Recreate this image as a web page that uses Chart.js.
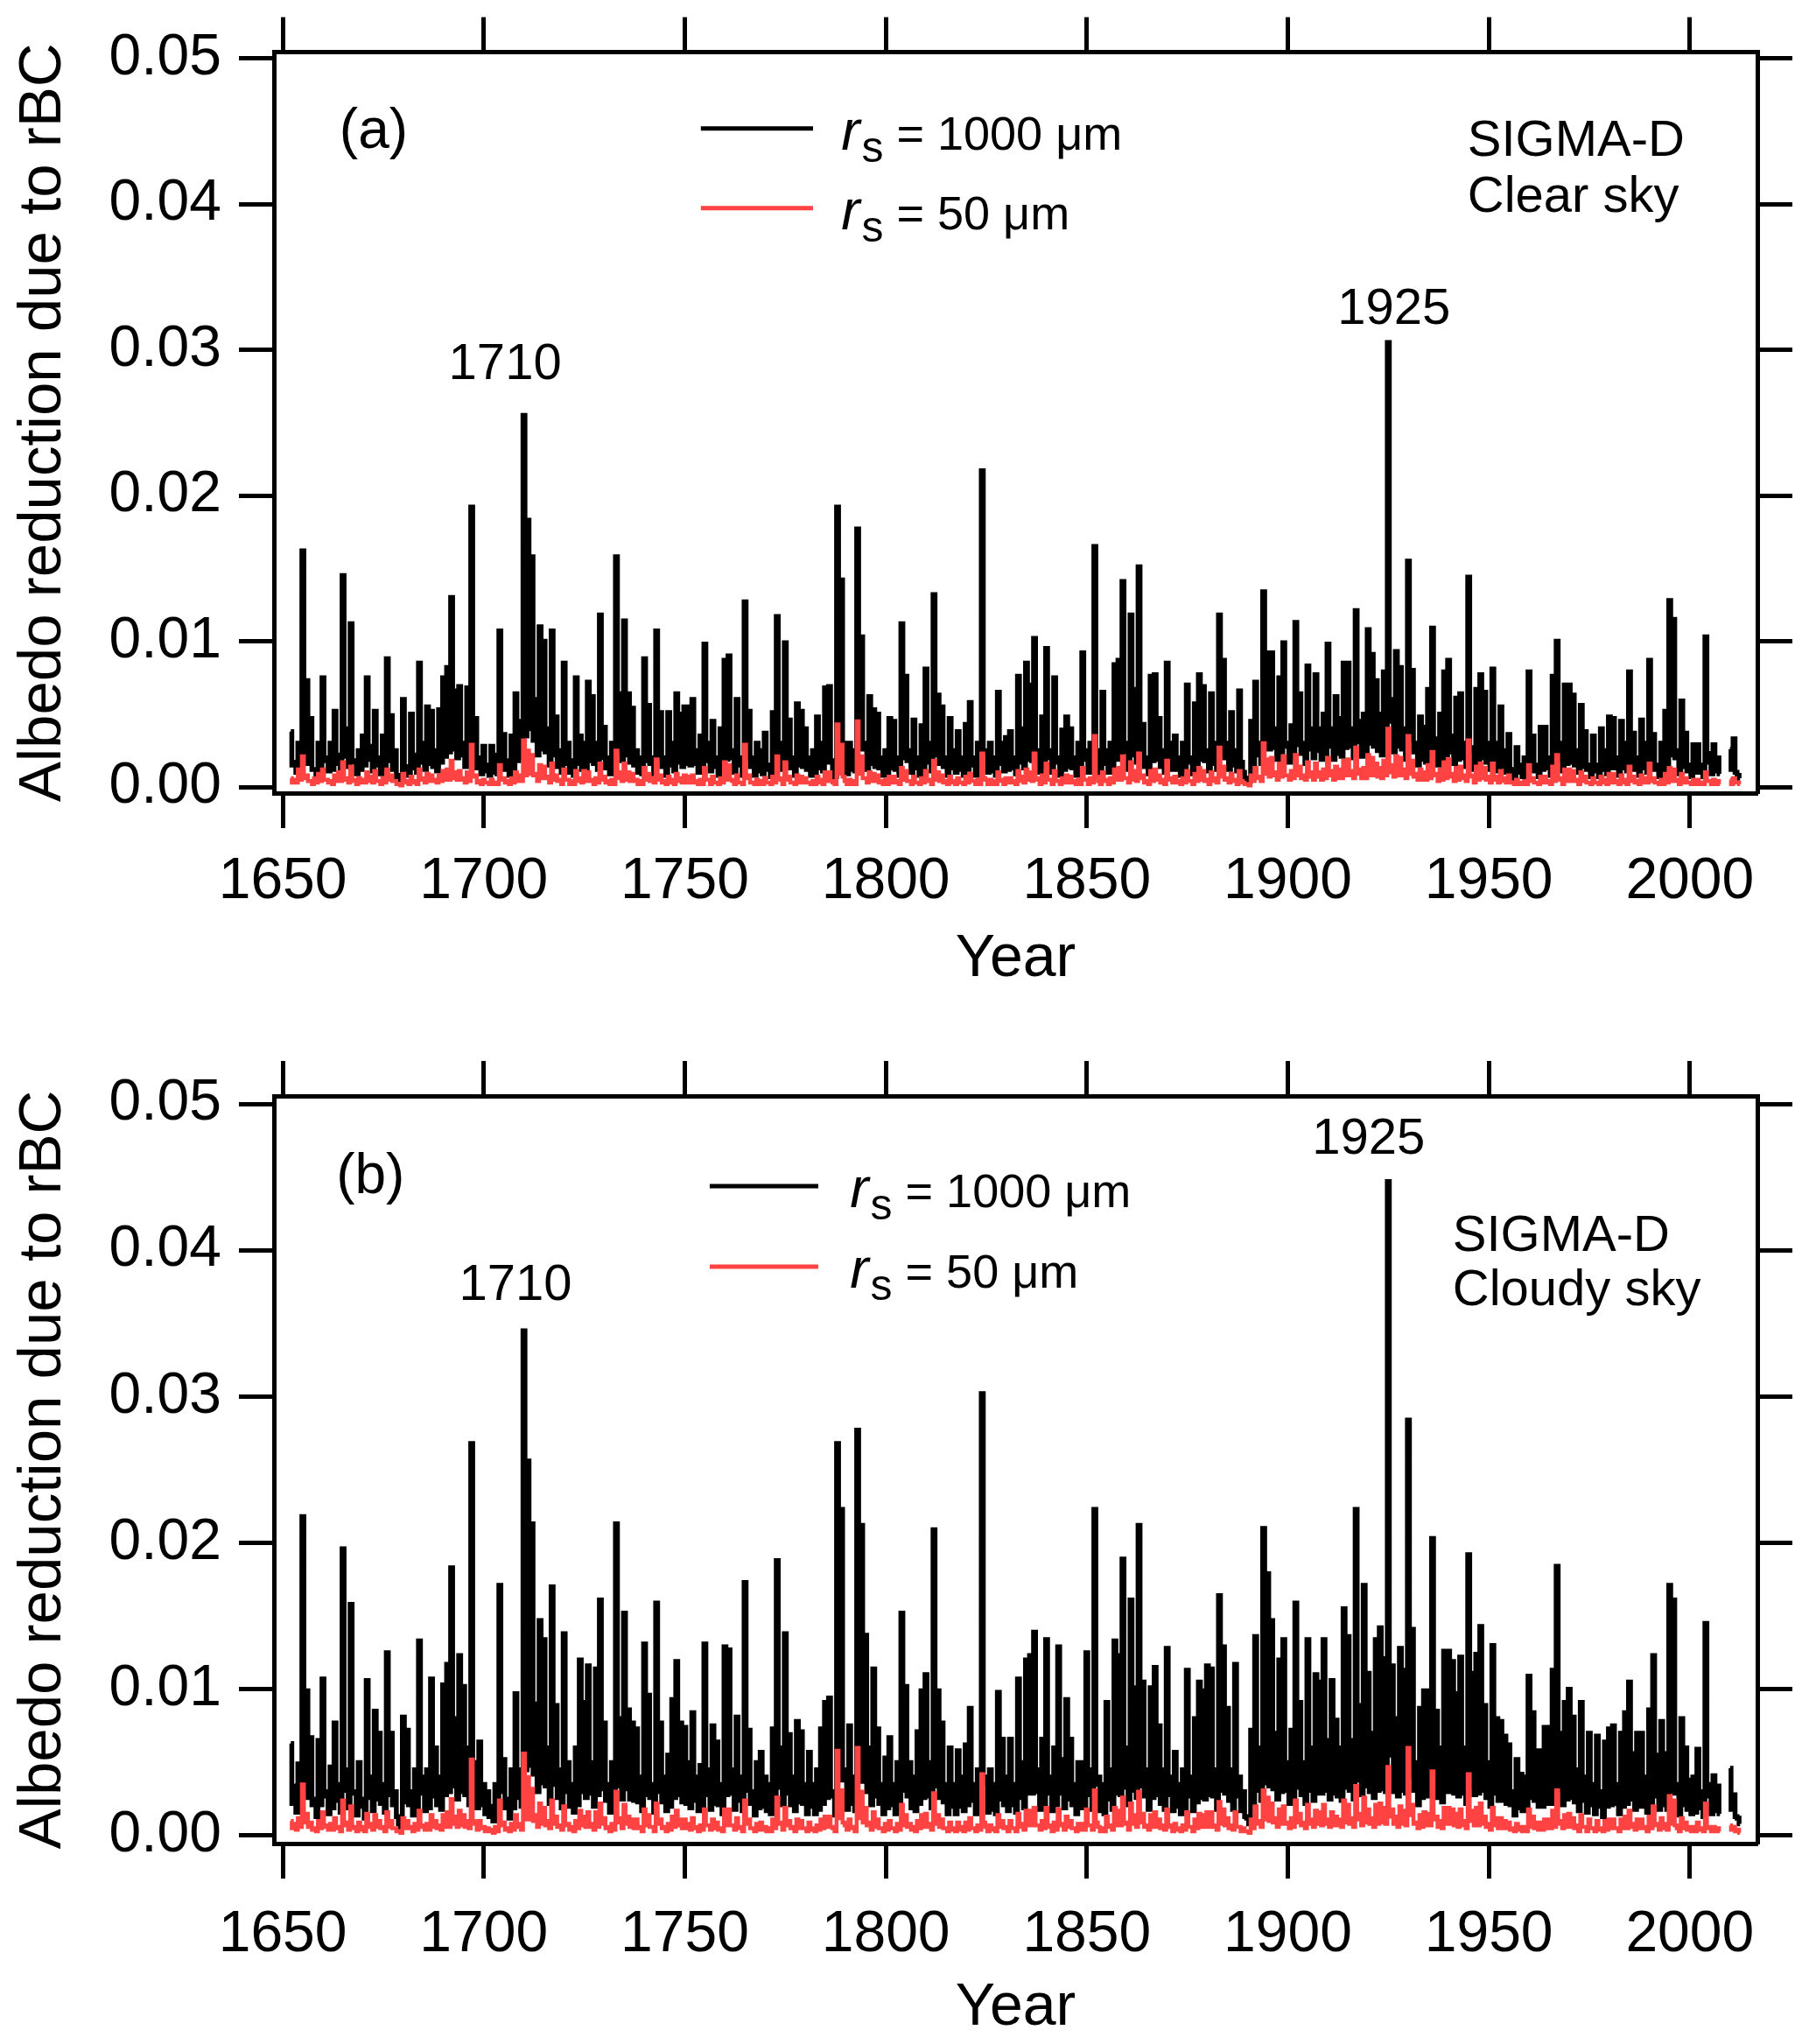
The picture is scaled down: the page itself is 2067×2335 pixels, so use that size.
<!DOCTYPE html>
<html>
<head>
<meta charset="utf-8">
<script src="https://cdn.jsdelivr.net/npm/chart.js@4.4.1/dist/chart.umd.min.js"></script>
<style>
  body { margin: 0; background: #fff; }
  .panel { position: absolute; left: 0; }
</style>
</head>
<body>
<div class="panel" style="top:0"><canvas id="clear-chart" width="2067" height="1167"></canvas></div>
<div class="panel" style="top:1167px"><canvas id="cloudy-chart" width="2067" height="1168"></canvas></div>
<script>
////// data: for each year 1652-2012 the high value and the
////// sub-annual low that follows it (null = no data)
const firstYear = 1652;
const lastYear = 2012;
const yearTicks = [1650, 1700, 1750, 1800, 1850, 1900, 1950, 2000];
const valueTicks = [0, 0.01, 0.02, 0.03, 0.04, 0.05];

// (a) clear sky, rs = 1000 um
const clearBlack = [
  0.0038,0.0017,0.0030,0.0162,0.0073,0.0047,0.0012,0.0030,0.0075,0.0020, // 1652
  0.0030,0.0052,0.0022,0.0145,0.0040,0.0112,0.0018,0.0025,0.0035,0.0075, // 1662
  0.0028,0.0052,0.0020,0.0035,0.0088,0.0049,0.0025,0.0008,0.0060,0.0012, // 1672
  0.0050,0.0022,0.0085,0.0030,0.0055,0.0052,0.0025,0.0053,0.0075,0.0082, // 1682
  0.0130,0.0066,0.0069,0.0030,0.0068,0.0192,0.0047,0.0020,0.0028,0.0015, // 1692
  0.0028,0.0022,0.0107,0.0036,0.0018,0.0035,0.0064,0.0045,0.0255,0.0183, // 1702
  0.0158,0.0060,0.0110,0.0100,0.0040,0.0107,0.0048,0.0025,0.0085,0.0030, // 1712
  0.0018,0.0075,0.0035,0.0030,0.0072,0.0062,0.0030,0.0118,0.0041,0.0020, // 1722
  0.0030,0.0158,0.0064,0.0114,0.0064,0.0054,0.0025,0.0020,0.0088,0.0056, // 1732
  0.0020,0.0107,0.0051,0.0020,0.0051,0.0030,0.0064,0.0050,0.0055,0.0055, // 1742
  0.0060,0.0025,0.0035,0.0098,0.0030,0.0045,0.0020,0.0040,0.0087,0.0090, // 1752
  0.0025,0.0060,0.0020,0.0127,0.0052,0.0020,0.0030,0.0025,0.0037,0.0015, // 1762
  0.0051,0.0117,0.0030,0.0099,0.0046,0.0020,0.0057,0.0052,0.0040,0.0020, // 1772
  0.0025,0.0048,0.0030,0.0068,0.0069,0.0012,0.0192,0.0142,0.0020,0.0030, // 1782
  0.0025,0.0177,0.0103,0.0030,0.0062,0.0053,0.0050,0.0020,0.0025,0.0047, // 1792
  0.0045,0.0020,0.0112,0.0076,0.0025,0.0046,0.0020,0.0042,0.0081,0.0030, // 1802
  0.0132,0.0063,0.0055,0.0020,0.0047,0.0025,0.0038,0.0020,0.0043,0.0058, // 1812
  0.0020,0.0030,0.0217,0.0025,0.0030,0.0020,0.0065,0.0030,0.0034,0.0038, // 1822
  0.0020,0.0076,0.0040,0.0085,0.0070,0.0102,0.0025,0.0048,0.0095,0.0025, // 1832
  0.0075,0.0020,0.0039,0.0048,0.0040,0.0020,0.0030,0.0092,0.0025,0.0030, // 1842
  0.0165,0.0020,0.0065,0.0025,0.0030,0.0084,0.0087,0.0141,0.0030,0.0118, // 1852
  0.0067,0.0151,0.0043,0.0020,0.0076,0.0077,0.0047,0.0025,0.0085,0.0030, // 1862
  0.0035,0.0020,0.0030,0.0070,0.0020,0.0057,0.0077,0.0069,0.0025,0.0064, // 1872
  0.0030,0.0118,0.0087,0.0030,0.0051,0.0025,0.0066,0.0010,0.0005,0.0045, // 1882
  0.0072,0.0030,0.0134,0.0092,0.0092,0.0040,0.0075,0.0099,0.0030,0.0042, // 1892
  0.0113,0.0064,0.0030,0.0083,0.0040,0.0077,0.0040,0.0050,0.0098,0.0040, // 1902
  0.0062,0.0047,0.0085,0.0085,0.0040,0.0121,0.0045,0.0050,0.0108,0.0091, // 1912
  0.0073,0.0050,0.0079,0.0305,0.0060,0.0093,0.0082,0.0040,0.0155,0.0080, // 1922
  0.0030,0.0048,0.0041,0.0067,0.0109,0.0033,0.0050,0.0079,0.0087,0.0035, // 1932
  0.0061,0.0064,0.0030,0.0144,0.0025,0.0067,0.0077,0.0065,0.0030,0.0081, // 1942
  0.0030,0.0055,0.0025,0.0036,0.0010,0.0027,0.0015,0.0020,0.0079,0.0035, // 1952
  0.0015,0.0041,0.0041,0.0020,0.0076,0.0100,0.0030,0.0070,0.0070,0.0063, // 1962
  0.0025,0.0056,0.0038,0.0015,0.0035,0.0015,0.0040,0.0025,0.0048,0.0047, // 1972
  0.0020,0.0045,0.0030,0.0079,0.0037,0.0020,0.0046,0.0030,0.0087,0.0036, // 1982
  0.0015,0.0030,0.0052,0.0128,0.0115,0.0025,0.0059,0.0037,0.0015,0.0029, // 1992
  0.0029,0.0015,0.0103,0.0023,0.0029,0.0020,null,null,0.0026,0.0033,     // 2002
  0.0008                                                                 // 2012
];
const clearBlackLow = [
  0.0015,0.0010,0.0014,0.0020,0.0016,0.0012,0.0008,0.0013,0.0018,0.0011,
  0.0012,0.0016,0.0010,0.0021,0.0014,0.0017,0.0009,0.0012,0.0015,0.0019,
  0.0011,0.0015,0.0009,0.0013,0.0018,0.0012,0.0007,0.0005,0.0014,0.0008,
  0.0013,0.0010,0.0017,0.0012,0.0016,0.0014,0.0011,0.0017,0.0021,0.0024,
  0.0026,0.0020,0.0022,0.0014,0.0019,0.0024,0.0013,0.0009,0.0011,0.0008,
  0.0010,0.0009,0.0016,0.0012,0.0008,0.0013,0.0018,0.0020,0.0035,0.0040,
  0.0032,0.0022,0.0026,0.0024,0.0015,0.0022,0.0014,0.0010,0.0016,0.0010,
  0.0008,0.0016,0.0012,0.0011,0.0018,0.0016,0.0012,0.0020,0.0013,0.0009,
  0.0012,0.0024,0.0018,0.0022,0.0017,0.0015,0.0010,0.0009,0.0018,0.0016,
  0.0009,0.0019,0.0014,0.0008,0.0015,0.0011,0.0017,0.0014,0.0016,0.0015,
  0.0016,0.0010,0.0012,0.0018,0.0011,0.0014,0.0008,0.0013,0.0019,0.0020,
  0.0010,0.0015,0.0008,0.0020,0.0014,0.0008,0.0011,0.0009,0.0012,0.0007,
  0.0014,0.0021,0.0012,0.0019,0.0013,0.0008,0.0015,0.0014,0.0012,0.0008,
  0.0010,0.0013,0.0011,0.0017,0.0018,0.0007,0.0035,0.0030,0.0009,0.0012,
  0.0011,0.0036,0.0026,0.0012,0.0016,0.0014,0.0013,0.0008,0.0010,0.0013,
  0.0012,0.0008,0.0020,0.0018,0.0010,0.0013,0.0008,0.0012,0.0017,0.0011,
  0.0022,0.0016,0.0014,0.0008,0.0013,0.0010,0.0012,0.0008,0.0012,0.0015,
  0.0008,0.0011,0.0024,0.0010,0.0011,0.0008,0.0016,0.0011,0.0012,0.0013,
  0.0009,0.0017,0.0013,0.0019,0.0018,0.0021,0.0010,0.0014,0.0020,0.0010,
  0.0017,0.0008,0.0012,0.0014,0.0013,0.0008,0.0011,0.0019,0.0010,0.0012,
  0.0025,0.0009,0.0016,0.0010,0.0012,0.0019,0.0020,0.0024,0.0012,0.0022,
  0.0017,0.0025,0.0014,0.0009,0.0018,0.0019,0.0014,0.0010,0.0019,0.0012,
  0.0012,0.0008,0.0011,0.0017,0.0009,0.0015,0.0019,0.0018,0.0011,0.0016,
  0.0012,0.0023,0.0020,0.0012,0.0015,0.0011,0.0017,0.0006,0.0004,0.0016,
  0.0022,0.0016,0.0030,0.0026,0.0027,0.0019,0.0024,0.0028,0.0017,0.0020,
  0.0029,0.0023,0.0016,0.0026,0.0020,0.0025,0.0019,0.0022,0.0028,0.0019,
  0.0023,0.0021,0.0027,0.0028,0.0020,0.0031,0.0021,0.0023,0.0030,0.0028,
  0.0025,0.0022,0.0027,0.0045,0.0024,0.0028,0.0026,0.0019,0.0032,0.0024,
  0.0015,0.0019,0.0017,0.0021,0.0026,0.0015,0.0019,0.0022,0.0024,0.0016,
  0.0019,0.0020,0.0014,0.0027,0.0012,0.0018,0.0020,0.0017,0.0012,0.0018,
  0.0011,0.0014,0.0010,0.0012,0.0006,0.0010,0.0007,0.0008,0.0016,0.0011,
  0.0007,0.0012,0.0013,0.0008,0.0016,0.0019,0.0011,0.0016,0.0017,0.0015,
  0.0010,0.0014,0.0012,0.0007,0.0011,0.0007,0.0012,0.0009,0.0013,0.0013,
  0.0008,0.0013,0.0011,0.0016,0.0012,0.0008,0.0013,0.0010,0.0017,0.0012,
  0.0007,0.0011,0.0014,0.0022,0.0020,0.0009,0.0014,0.0011,0.0007,0.0010,
  0.0010,0.0007,0.0017,0.0009,0.0011,0.0009,null,null,0.0012,0.0010,
  0.0006
];

// (a) clear sky, rs = 50 um
const clearRed = [
  0.0006,0.0005,0.0012,0.0021,0.0008,0.0004,0.0006,0.0009,0.0012,0.0005,
  0.0004,0.0008,0.0010,0.0017,0.0006,0.0014,0.0004,0.0006,0.0005,0.0010,
  0.0007,0.0011,0.0004,0.0006,0.0012,0.0008,0.0004,0.0002,0.0009,0.0003,
  0.0007,0.0004,0.0012,0.0006,0.0009,0.0008,0.0005,0.0008,0.0011,0.0012,
  0.0018,0.0010,0.0011,0.0006,0.0010,0.0029,0.0008,0.0004,0.0005,0.0003,
  0.0005,0.0003,0.0015,0.0006,0.0004,0.0006,0.0010,0.0008,0.0032,0.0025,
  0.0022,0.0009,0.0015,0.0014,0.0007,0.0016,0.0008,0.0005,0.0012,0.0005,
  0.0004,0.0011,0.0006,0.0011,0.0010,0.0005,0.0006,0.0016,0.0007,0.0004,
  0.0005,0.0025,0.0010,0.0016,0.0010,0.0009,0.0005,0.0004,0.0013,0.0009,
  0.0006,0.0019,0.0008,0.0004,0.0007,0.0005,0.0009,0.0006,0.0008,0.0007,
  0.0008,0.0004,0.0005,0.0013,0.0005,0.0007,0.0003,0.0006,0.0017,0.0015,
  0.0004,0.0008,0.0003,0.0029,0.0008,0.0003,0.0005,0.0004,0.0006,0.0003,
  0.0007,0.0021,0.0005,0.0017,0.0007,0.0003,0.0008,0.0007,0.0006,0.0003,
  0.0004,0.0007,0.0005,0.0010,0.0010,0.0003,0.0043,0.0029,0.0004,0.0005,
  0.0004,0.0045,0.0021,0.0006,0.0010,0.0009,0.0008,0.0004,0.0005,0.0007,
  0.0007,0.0004,0.0013,0.0011,0.0004,0.0007,0.0003,0.0006,0.0011,0.0005,
  0.0018,0.0010,0.0008,0.0004,0.0007,0.0004,0.0006,0.0003,0.0007,0.0009,
  0.0004,0.0005,0.0023,0.0005,0.0005,0.0004,0.0010,0.0005,0.0006,0.0006,
  0.0004,0.0011,0.0007,0.0012,0.0010,0.0023,0.0005,0.0008,0.0016,0.0005,
  0.0011,0.0004,0.0006,0.0008,0.0007,0.0004,0.0005,0.0013,0.0005,0.0006,
  0.0035,0.0004,0.0010,0.0005,0.0006,0.0012,0.0013,0.0021,0.0006,0.0017,
  0.0011,0.0023,0.0008,0.0004,0.0011,0.0012,0.0008,0.0005,0.0018,0.0006,
  0.0007,0.0004,0.0006,0.0011,0.0004,0.0009,0.0013,0.0011,0.0005,0.0010,
  0.0006,0.0027,0.0014,0.0006,0.0009,0.0005,0.0011,0.0003,0.0002,0.0008,
  0.0013,0.0007,0.0030,0.0019,0.0020,0.0010,0.0016,0.0021,0.0008,0.0011,
  0.0022,0.0014,0.0008,0.0017,0.0010,0.0016,0.0010,0.0012,0.0020,0.0011,
  0.0014,0.0012,0.0018,0.0019,0.0011,0.0027,0.0012,0.0013,0.0022,0.0020,
  0.0016,0.0013,0.0018,0.0040,0.0015,0.0021,0.0020,0.0012,0.0035,0.0018,
  0.0009,0.0012,0.0010,0.0015,0.0024,0.0009,0.0012,0.0017,0.0019,0.0009,
  0.0013,0.0014,0.0008,0.0032,0.0007,0.0014,0.0016,0.0013,0.0007,0.0016,
  0.0007,0.0011,0.0006,0.0008,0.0003,0.0005,0.0003,0.0004,0.0015,0.0006,
  0.0003,0.0007,0.0007,0.0004,0.0014,0.0022,0.0005,0.0012,0.0012,0.0011,
  0.0005,0.0010,0.0007,0.0003,0.0006,0.0003,0.0007,0.0005,0.0009,0.0009,
  0.0004,0.0008,0.0005,0.0014,0.0007,0.0004,0.0008,0.0006,0.0016,0.0006,
  0.0003,0.0005,0.0009,0.0013,0.0012,0.0005,0.0009,0.0006,0.0003,0.0005,
  0.0005,0.0003,0.0010,0.0004,0.0005,0.0004,null,null,0.0005,0.0006,
  0.0003
];
const clearRedLow = [
  0.0003,0.0003,0.0005,0.0006,0.0004,0.0002,0.0003,0.0004,0.0005,0.0003,
  0.0002,0.0004,0.0004,0.0005,0.0003,0.0005,0.0002,0.0003,0.0003,0.0004,
  0.0003,0.0004,0.0002,0.0003,0.0005,0.0004,0.0002,0.0001,0.0004,0.0002,
  0.0003,0.0002,0.0005,0.0003,0.0004,0.0004,0.0003,0.0004,0.0005,0.0005,
  0.0006,0.0005,0.0005,0.0003,0.0004,0.0007,0.0003,0.0002,0.0003,0.0002,
  0.0002,0.0002,0.0005,0.0003,0.0002,0.0003,0.0004,0.0004,0.0008,0.0009,
  0.0008,0.0004,0.0006,0.0006,0.0003,0.0005,0.0004,0.0002,0.0005,0.0002,
  0.0002,0.0004,0.0003,0.0004,0.0004,0.0002,0.0003,0.0005,0.0003,0.0002,
  0.0002,0.0006,0.0004,0.0005,0.0004,0.0004,0.0002,0.0002,0.0005,0.0004,
  0.0003,0.0005,0.0003,0.0002,0.0003,0.0002,0.0004,0.0003,0.0003,0.0003,
  0.0003,0.0002,0.0002,0.0005,0.0002,0.0003,0.0002,0.0003,0.0005,0.0005,
  0.0002,0.0003,0.0002,0.0006,0.0003,0.0002,0.0002,0.0002,0.0003,0.0002,
  0.0003,0.0006,0.0002,0.0005,0.0003,0.0002,0.0003,0.0003,0.0003,0.0002,
  0.0002,0.0003,0.0002,0.0004,0.0004,0.0002,0.0009,0.0007,0.0002,0.0002,
  0.0002,0.0009,0.0006,0.0003,0.0004,0.0004,0.0003,0.0002,0.0002,0.0003,
  0.0003,0.0002,0.0005,0.0004,0.0002,0.0003,0.0002,0.0003,0.0004,0.0002,
  0.0005,0.0004,0.0003,0.0002,0.0003,0.0002,0.0003,0.0002,0.0003,0.0004,
  0.0002,0.0002,0.0006,0.0002,0.0002,0.0002,0.0004,0.0002,0.0003,0.0003,
  0.0002,0.0004,0.0003,0.0005,0.0004,0.0006,0.0002,0.0003,0.0005,0.0002,
  0.0004,0.0002,0.0003,0.0003,0.0003,0.0002,0.0002,0.0005,0.0002,0.0003,
  0.0007,0.0002,0.0004,0.0002,0.0003,0.0005,0.0005,0.0006,0.0003,0.0005,
  0.0004,0.0006,0.0003,0.0002,0.0004,0.0005,0.0003,0.0002,0.0005,0.0003,
  0.0003,0.0002,0.0003,0.0004,0.0002,0.0004,0.0005,0.0004,0.0002,0.0004,
  0.0003,0.0007,0.0005,0.0003,0.0004,0.0002,0.0004,0.0002,0.0001,0.0004,
  0.0006,0.0004,0.0009,0.0007,0.0008,0.0005,0.0007,0.0008,0.0005,0.0006,
  0.0008,0.0006,0.0005,0.0007,0.0005,0.0007,0.0005,0.0006,0.0008,0.0005,
  0.0006,0.0006,0.0008,0.0008,0.0006,0.0009,0.0006,0.0006,0.0008,0.0008,
  0.0007,0.0006,0.0008,0.0010,0.0007,0.0008,0.0008,0.0006,0.0009,0.0007,
  0.0005,0.0005,0.0005,0.0006,0.0008,0.0004,0.0005,0.0006,0.0007,0.0004,
  0.0005,0.0006,0.0004,0.0008,0.0003,0.0005,0.0006,0.0005,0.0003,0.0005,
  0.0003,0.0004,0.0003,0.0003,0.0002,0.0002,0.0002,0.0002,0.0004,0.0003,
  0.0002,0.0003,0.0003,0.0002,0.0004,0.0006,0.0002,0.0004,0.0004,0.0004,
  0.0002,0.0004,0.0003,0.0002,0.0003,0.0002,0.0003,0.0002,0.0003,0.0003,
  0.0002,0.0003,0.0002,0.0004,0.0003,0.0002,0.0003,0.0003,0.0004,0.0003,
  0.0002,0.0002,0.0003,0.0004,0.0004,0.0002,0.0003,0.0003,0.0002,0.0002,
  0.0002,0.0002,0.0004,0.0002,0.0002,0.0002,null,null,0.0002,0.0003,
  0.0002
];

// (b) cloudy sky, rs = 1000 um
const cloudyBlack = [
  0.0063,0.0034,0.0049,0.0218,0.0099,0.0067,0.0025,0.0065,0.0107,0.0030, // 1652
  0.0047,0.0077,0.0035,0.0196,0.0045,0.0158,0.0030,0.0050,0.0025,0.0106, // 1662
  0.0040,0.0085,0.0070,0.0035,0.0125,0.0070,0.0030,0.0008,0.0081,0.0072, // 1672
  0.0030,0.0045,0.0133,0.0040,0.0045,0.0107,0.0060,0.0040,0.0103,0.0117, // 1682
  0.0183,0.0080,0.0123,0.0102,0.0060,0.0268,0.0050,0.0064,0.0035,0.0030, // 1692
  0.0020,0.0035,0.0171,0.0052,0.0025,0.0045,0.0097,0.0045,0.0345,0.0256, // 1702
  0.0213,0.0090,0.0147,0.0134,0.0060,0.0170,0.0089,0.0045,0.0138,0.0050, // 1712
  0.0035,0.0060,0.0120,0.0091,0.0116,0.0050,0.0114,0.0161,0.0077,0.0035, // 1722
  0.0050,0.0213,0.0080,0.0152,0.0086,0.0077,0.0073,0.0040,0.0131,0.0096, // 1732
  0.0035,0.0159,0.0077,0.0040,0.0055,0.0093,0.0119,0.0077,0.0074,0.0050, // 1742
  0.0084,0.0040,0.0048,0.0131,0.0045,0.0075,0.0064,0.0035,0.0129,0.0127, // 1752
  0.0045,0.0081,0.0040,0.0173,0.0072,0.0030,0.0050,0.0057,0.0040,0.0035, // 1762
  0.0073,0.0188,0.0060,0.0138,0.0069,0.0040,0.0078,0.0071,0.0035,0.0057, // 1772
  0.0035,0.0045,0.0073,0.0091,0.0094,0.0030,0.0268,0.0223,0.0045,0.0075, // 1782
  0.0040,0.0277,0.0212,0.0137,0.0060,0.0114,0.0073,0.0035,0.0053,0.0067, // 1792
  0.0035,0.0050,0.0152,0.0102,0.0050,0.0040,0.0071,0.0099,0.0110,0.0050, // 1802
  0.0209,0.0099,0.0077,0.0035,0.0060,0.0035,0.0058,0.0040,0.0062,0.0087, // 1812
  0.0035,0.0045,0.0302,0.0040,0.0045,0.0035,0.0098,0.0066,0.0040,0.0066, // 1822
  0.0035,0.0107,0.0050,0.0120,0.0123,0.0139,0.0045,0.0066,0.0134,0.0040, // 1832
  0.0060,0.0129,0.0052,0.0093,0.0066,0.0035,0.0050,0.0050,0.0125,0.0045, // 1842
  0.0223,0.0040,0.0035,0.0091,0.0045,0.0133,0.0123,0.0189,0.0060,0.0161, // 1852
  0.0101,0.0212,0.0105,0.0045,0.0101,0.0115,0.0075,0.0045,0.0128,0.0040, // 1862
  0.0057,0.0035,0.0045,0.0113,0.0040,0.0080,0.0105,0.0099,0.0116,0.0114, // 1872
  0.0045,0.0164,0.0129,0.0087,0.0045,0.0117,0.0040,0.0030,0.0012,0.0072, // 1882
  0.0136,0.0060,0.0210,0.0179,0.0147,0.0070,0.0120,0.0134,0.0050,0.0072, // 1892
  0.0159,0.0091,0.0050,0.0134,0.0060,0.0110,0.0105,0.0134,0.0065,0.0106, // 1902
  0.0079,0.0060,0.0155,0.0136,0.0065,0.0223,0.0089,0.0171,0.0111,0.0070, // 1912
  0.0134,0.0142,0.0121,0.0447,0.0116,0.0080,0.0128,0.0113,0.0284,0.0141, // 1922
  0.0050,0.0087,0.0099,0.0099,0.0203,0.0085,0.0060,0.0126,0.0126,0.0119, // 1932
  0.0097,0.0122,0.0060,0.0192,0.0111,0.0124,0.0143,0.0089,0.0050,0.0130, // 1942
  0.0080,0.0078,0.0068,0.0062,0.0030,0.0052,0.0042,0.0040,0.0109,0.0084, // 1952
  0.0058,0.0058,0.0074,0.0074,0.0113,0.0184,0.0070,0.0091,0.0100,0.0081, // 1962
  0.0045,0.0091,0.0040,0.0070,0.0035,0.0068,0.0030,0.0064,0.0073,0.0075, // 1972
  0.0035,0.0070,0.0084,0.0105,0.0056,0.0070,0.0070,0.0040,0.0086,0.0123, // 1982
  0.0055,0.0078,0.0056,0.0171,0.0161,0.0035,0.0080,0.0060,0.0038,0.0040, // 1992
  0.0059,0.0030,0.0145,0.0035,0.0041,0.0034,null,null,0.0046,0.0028,     // 2002
  0.0012                                                                 // 2012
];
const cloudyBlackLow = [
  0.0022,0.0016,0.0020,0.0032,0.0026,0.0021,0.0013,0.0021,0.0027,0.0015,
  0.0019,0.0024,0.0016,0.0031,0.0019,0.0029,0.0014,0.0020,0.0012,0.0026,
  0.0017,0.0025,0.0022,0.0016,0.0028,0.0021,0.0013,0.0006,0.0023,0.0021,
  0.0014,0.0019,0.0029,0.0017,0.0019,0.0027,0.0021,0.0018,0.0028,0.0030,
  0.0034,0.0025,0.0030,0.0028,0.0021,0.0036,0.0019,0.0021,0.0015,0.0013,
  0.0010,0.0016,0.0030,0.0019,0.0012,0.0019,0.0026,0.0020,0.0045,0.0048,
  0.0042,0.0030,0.0036,0.0034,0.0022,0.0035,0.0026,0.0019,0.0030,0.0020,
  0.0016,0.0021,0.0030,0.0026,0.0029,0.0020,0.0028,0.0032,0.0024,0.0016,
  0.0020,0.0034,0.0025,0.0032,0.0025,0.0024,0.0023,0.0017,0.0028,0.0026,
  0.0016,0.0030,0.0023,0.0017,0.0020,0.0026,0.0028,0.0023,0.0022,0.0019,
  0.0024,0.0017,0.0019,0.0028,0.0018,0.0022,0.0021,0.0015,0.0028,0.0029,
  0.0018,0.0024,0.0017,0.0031,0.0022,0.0014,0.0019,0.0020,0.0017,0.0015,
  0.0022,0.0033,0.0021,0.0029,0.0021,0.0017,0.0023,0.0022,0.0015,0.0020,
  0.0015,0.0018,0.0022,0.0026,0.0027,0.0014,0.0042,0.0038,0.0018,0.0022,
  0.0017,0.0044,0.0037,0.0030,0.0021,0.0027,0.0022,0.0015,0.0019,0.0021,
  0.0015,0.0019,0.0031,0.0027,0.0019,0.0017,0.0022,0.0026,0.0027,0.0019,
  0.0034,0.0026,0.0023,0.0015,0.0020,0.0015,0.0020,0.0017,0.0021,0.0024,
  0.0015,0.0018,0.0036,0.0016,0.0018,0.0015,0.0025,0.0021,0.0017,0.0021,
  0.0016,0.0026,0.0019,0.0029,0.0029,0.0030,0.0018,0.0021,0.0029,0.0017,
  0.0021,0.0029,0.0019,0.0025,0.0021,0.0015,0.0019,0.0019,0.0028,0.0018,
  0.0035,0.0017,0.0015,0.0025,0.0018,0.0029,0.0028,0.0033,0.0021,0.0031,
  0.0026,0.0034,0.0027,0.0018,0.0026,0.0028,0.0022,0.0018,0.0028,0.0017,
  0.0020,0.0015,0.0018,0.0027,0.0017,0.0023,0.0026,0.0025,0.0028,0.0027,
  0.0018,0.0031,0.0029,0.0024,0.0018,0.0027,0.0017,0.0013,0.0008,0.0022,
  0.0031,0.0024,0.0036,0.0034,0.0032,0.0025,0.0030,0.0031,0.0022,0.0026,
  0.0033,0.0028,0.0022,0.0031,0.0024,0.0029,0.0029,0.0031,0.0025,0.0029,
  0.0027,0.0024,0.0033,0.0031,0.0025,0.0038,0.0028,0.0034,0.0030,0.0026,
  0.0031,0.0032,0.0030,0.0055,0.0030,0.0027,0.0031,0.0029,0.0040,0.0031,
  0.0021,0.0026,0.0027,0.0027,0.0035,0.0026,0.0023,0.0030,0.0030,0.0029,
  0.0027,0.0029,0.0022,0.0033,0.0028,0.0029,0.0031,0.0026,0.0020,0.0029,
  0.0024,0.0024,0.0022,0.0021,0.0014,0.0019,0.0017,0.0017,0.0026,0.0024,
  0.0020,0.0020,0.0022,0.0022,0.0026,0.0031,0.0021,0.0025,0.0026,0.0023,
  0.0017,0.0024,0.0016,0.0021,0.0015,0.0020,0.0013,0.0020,0.0021,0.0022,
  0.0015,0.0020,0.0022,0.0025,0.0018,0.0020,0.0020,0.0016,0.0022,0.0027,
  0.0018,0.0021,0.0018,0.0030,0.0029,0.0014,0.0021,0.0018,0.0015,0.0016,
  0.0019,0.0013,0.0027,0.0015,0.0017,0.0015,null,null,0.0018,0.0013,
  0.0008
];

// (b) cloudy sky, rs = 50 um
const cloudyRed = [
  0.0010,0.0008,0.0012,0.0035,0.0015,0.0009,0.0005,0.0010,0.0016,0.0007,
  0.0008,0.0012,0.0006,0.0024,0.0009,0.0020,0.0005,0.0009,0.0006,0.0015,
  0.0008,0.0014,0.0010,0.0006,0.0016,0.0010,0.0005,0.0003,0.0012,0.0010,
  0.0006,0.0008,0.0017,0.0007,0.0008,0.0014,0.0010,0.0007,0.0014,0.0016,
  0.0025,0.0013,0.0017,0.0014,0.0010,0.0052,0.0008,0.0010,0.0006,0.0005,
  0.0004,0.0006,0.0024,0.0009,0.0005,0.0008,0.0014,0.0008,0.0056,0.0040,
  0.0032,0.0014,0.0022,0.0019,0.0010,0.0024,0.0013,0.0007,0.0020,0.0008,
  0.0006,0.0010,0.0017,0.0013,0.0016,0.0008,0.0016,0.0022,0.0012,0.0006,
  0.0008,0.0030,0.0012,0.0021,0.0013,0.0011,0.0011,0.0006,0.0018,0.0014,
  0.0006,0.0022,0.0011,0.0006,0.0008,0.0013,0.0017,0.0011,0.0011,0.0008,
  0.0012,0.0006,0.0007,0.0018,0.0007,0.0011,0.0009,0.0005,0.0018,0.0018,
  0.0007,0.0012,0.0006,0.0024,0.0011,0.0005,0.0008,0.0009,0.0006,0.0005,
  0.0011,0.0026,0.0009,0.0019,0.0010,0.0006,0.0011,0.0010,0.0005,0.0009,
  0.0005,0.0007,0.0011,0.0013,0.0013,0.0005,0.0058,0.0031,0.0007,0.0011,
  0.0006,0.0060,0.0030,0.0019,0.0009,0.0016,0.0011,0.0005,0.0008,0.0010,
  0.0005,0.0008,0.0021,0.0014,0.0008,0.0006,0.0010,0.0014,0.0015,0.0008,
  0.0029,0.0014,0.0011,0.0005,0.0009,0.0005,0.0009,0.0006,0.0009,0.0012,
  0.0005,0.0007,0.0042,0.0006,0.0007,0.0005,0.0014,0.0010,0.0006,0.0010,
  0.0005,0.0015,0.0008,0.0017,0.0017,0.0019,0.0007,0.0010,0.0019,0.0006,
  0.0009,0.0018,0.0008,0.0013,0.0010,0.0005,0.0008,0.0008,0.0018,0.0007,
  0.0031,0.0006,0.0005,0.0013,0.0007,0.0019,0.0017,0.0026,0.0009,0.0022,
  0.0014,0.0030,0.0015,0.0007,0.0014,0.0016,0.0011,0.0007,0.0018,0.0006,
  0.0008,0.0005,0.0007,0.0016,0.0006,0.0011,0.0015,0.0014,0.0016,0.0016,
  0.0007,0.0023,0.0018,0.0012,0.0007,0.0016,0.0006,0.0005,0.0003,0.0011,
  0.0020,0.0010,0.0031,0.0026,0.0022,0.0012,0.0018,0.0020,0.0009,0.0012,
  0.0024,0.0015,0.0009,0.0021,0.0011,0.0017,0.0016,0.0021,0.0011,0.0016,
  0.0013,0.0011,0.0024,0.0021,0.0012,0.0034,0.0015,0.0026,0.0018,0.0012,
  0.0021,0.0022,0.0019,0.0047,0.0018,0.0013,0.0020,0.0017,0.0060,0.0021,
  0.0009,0.0014,0.0016,0.0015,0.0044,0.0013,0.0010,0.0019,0.0019,0.0018,
  0.0015,0.0018,0.0010,0.0042,0.0017,0.0019,0.0022,0.0013,0.0008,0.0019,
  0.0012,0.0012,0.0010,0.0009,0.0005,0.0008,0.0006,0.0006,0.0018,0.0013,
  0.0009,0.0009,0.0011,0.0011,0.0017,0.0031,0.0010,0.0014,0.0015,0.0012,
  0.0007,0.0014,0.0006,0.0011,0.0005,0.0010,0.0005,0.0010,0.0011,0.0011,
  0.0005,0.0011,0.0013,0.0017,0.0008,0.0011,0.0011,0.0006,0.0013,0.0020,
  0.0008,0.0012,0.0008,0.0027,0.0024,0.0005,0.0012,0.0009,0.0006,0.0006,
  0.0009,0.0005,0.0022,0.0005,0.0006,0.0005,null,null,0.0007,0.0006,
  0.0004
];
const cloudyRedLow = [
  0.0005,0.0004,0.0006,0.0009,0.0006,0.0004,0.0003,0.0005,0.0006,0.0004,
  0.0004,0.0005,0.0003,0.0007,0.0004,0.0006,0.0003,0.0004,0.0003,0.0006,
  0.0004,0.0006,0.0005,0.0003,0.0006,0.0005,0.0003,0.0002,0.0005,0.0005,
  0.0003,0.0004,0.0006,0.0004,0.0004,0.0006,0.0005,0.0004,0.0006,0.0006,
  0.0008,0.0006,0.0007,0.0006,0.0005,0.0010,0.0004,0.0005,0.0003,0.0003,
  0.0002,0.0003,0.0007,0.0004,0.0003,0.0004,0.0006,0.0004,0.0011,0.0011,
  0.0010,0.0006,0.0008,0.0007,0.0005,0.0008,0.0006,0.0004,0.0007,0.0004,
  0.0003,0.0005,0.0007,0.0006,0.0006,0.0004,0.0006,0.0008,0.0005,0.0003,
  0.0004,0.0009,0.0005,0.0008,0.0006,0.0005,0.0005,0.0003,0.0007,0.0006,
  0.0003,0.0008,0.0005,0.0003,0.0004,0.0006,0.0007,0.0005,0.0005,0.0004,
  0.0005,0.0003,0.0004,0.0007,0.0004,0.0005,0.0004,0.0003,0.0007,0.0007,
  0.0004,0.0005,0.0003,0.0008,0.0005,0.0003,0.0004,0.0004,0.0003,0.0003,
  0.0005,0.0008,0.0004,0.0007,0.0005,0.0003,0.0005,0.0005,0.0003,0.0004,
  0.0003,0.0004,0.0005,0.0006,0.0006,0.0003,0.0012,0.0009,0.0004,0.0005,
  0.0003,0.0012,0.0009,0.0007,0.0004,0.0006,0.0005,0.0003,0.0004,0.0005,
  0.0003,0.0004,0.0007,0.0006,0.0004,0.0003,0.0005,0.0006,0.0006,0.0004,
  0.0008,0.0006,0.0005,0.0003,0.0004,0.0003,0.0004,0.0003,0.0004,0.0005,
  0.0003,0.0004,0.0009,0.0003,0.0004,0.0003,0.0006,0.0005,0.0003,0.0005,
  0.0003,0.0006,0.0004,0.0007,0.0007,0.0007,0.0004,0.0005,0.0007,0.0003,
  0.0004,0.0007,0.0004,0.0006,0.0005,0.0003,0.0004,0.0004,0.0007,0.0004,
  0.0009,0.0003,0.0003,0.0006,0.0004,0.0007,0.0007,0.0008,0.0004,0.0008,
  0.0006,0.0009,0.0006,0.0004,0.0006,0.0006,0.0005,0.0004,0.0007,0.0003,
  0.0004,0.0003,0.0004,0.0006,0.0003,0.0005,0.0006,0.0006,0.0006,0.0006,
  0.0004,0.0008,0.0007,0.0005,0.0004,0.0006,0.0003,0.0003,0.0002,0.0005,
  0.0008,0.0006,0.0011,0.0010,0.0009,0.0006,0.0008,0.0008,0.0005,0.0006,
  0.0009,0.0007,0.0005,0.0008,0.0006,0.0008,0.0007,0.0008,0.0006,0.0007,
  0.0007,0.0006,0.0009,0.0008,0.0006,0.0011,0.0007,0.0009,0.0008,0.0006,
  0.0008,0.0009,0.0008,0.0013,0.0008,0.0006,0.0008,0.0007,0.0014,0.0008,
  0.0005,0.0006,0.0007,0.0007,0.0011,0.0006,0.0005,0.0008,0.0008,0.0007,
  0.0006,0.0007,0.0005,0.0010,0.0007,0.0007,0.0008,0.0006,0.0004,0.0007,
  0.0005,0.0005,0.0005,0.0004,0.0003,0.0004,0.0003,0.0003,0.0006,0.0005,
  0.0004,0.0004,0.0005,0.0005,0.0006,0.0008,0.0005,0.0006,0.0006,0.0005,
  0.0003,0.0006,0.0003,0.0005,0.0003,0.0004,0.0003,0.0004,0.0005,0.0005,
  0.0003,0.0005,0.0005,0.0006,0.0004,0.0005,0.0005,0.0003,0.0005,0.0007,
  0.0004,0.0005,0.0004,0.0008,0.0007,0.0003,0.0005,0.0004,0.0003,0.0003,
  0.0004,0.0003,0.0006,0.0003,0.0003,0.0003,null,null,0.0004,0.0003,
  0.0002
];

Chart.defaults.font.family = "'Liberation Sans', Arial, Helvetica, sans-serif";
Chart.defaults.color = '#000';

// each year: its high value, then the low half a year later
function toPoints(highs, lows) {
    let pts = [];
    for (let i = 0; i <= lastYear - firstYear; i++) {
        pts.push({x: firstYear + i, y: highs[i]});
        pts.push({x: firstYear + i + 0.5, y: lows[i]});
    }
    return pts;
}

// text labels, legend and panel letter drawn inside the plot
const panelNotes = {
    id: 'panelNotes',
    afterDatasetsDraw(chart, args, opts) {
        const ctx = chart.ctx;
        const x = chart.scales.x;
        const y = chart.scales.y;
        const fam = '"Liberation Sans", Arial, sans-serif';
        ctx.save();
        ctx.fillStyle = '#000';
        ctx.textBaseline = 'alphabetic';

        opts.texts.forEach(function (t) {
            ctx.font = t.size + 'px ' + fam;
            ctx.textAlign = t.align;
            ctx.fillText(t.text, x.getPixelForValue(t.year), y.getPixelForValue(t.value));
        });

        opts.legend.forEach(function (l) {
            const ly = y.getPixelForValue(l.lineAt);
            ctx.strokeStyle = l.color;
            ctx.lineWidth = 5;
            ctx.beginPath();
            ctx.moveTo(x.getPixelForValue(l.from), ly);
            ctx.lineTo(x.getPixelForValue(l.to), ly);
            ctx.stroke();

            let px = x.getPixelForValue(l.textAt);
            const base = y.getPixelForValue(l.baseAt);
            ctx.textAlign = 'left';
            ctx.font = 'italic 64px ' + fam;
            ctx.fillText('r', px, base);
            px += ctx.measureText('r').width + 2;
            ctx.font = '50px ' + fam;
            ctx.fillText('s', px, base + 14);
            px += ctx.measureText('s').width;
            ctx.font = '54px ' + fam;
            ctx.fillText(' = ' + l.label, px, base);
        });
        ctx.restore();
    }
};

function makeScales(yMin, yMax, topHeight, bottomHeight, labelPad, titlePad) {
    const frame = {display: true, color: '#000', width: 5};
    const tickGrid = {display: true, drawOnChartArea: false, drawTicks: true, tickLength: 40, tickWidth: 5, tickColor: '#000'};
    const setYears = function (s) { s.ticks = yearTicks.map(function (v) { return {value: v}; }); };
    const setValues = function (s) { s.ticks = valueTicks.map(function (v) { return {value: v}; }); };
    return {
        x: {
            type: 'linear', position: 'bottom', min: 1647.8, max: 2016.8,
            afterBuildTicks: setYears,
            afterFit: function (s) { s.height = bottomHeight; },
            grid: tickGrid, border: frame,
            ticks: {padding: labelPad, font: {size: 66}, maxRotation: 0, autoSkip: false,
                    callback: function (v) { return String(v); }},
            title: {display: true, text: 'Year', font: {size: 68}, padding: {top: 0, bottom: titlePad}}
        },
        x2: {
            type: 'linear', axis: 'x', position: 'top', min: 1647.8, max: 2016.8,
            afterBuildTicks: setYears,
            afterFit: function (s) { s.height = topHeight; },
            grid: tickGrid, border: frame, ticks: {display: false}
        },
        y: {
            type: 'linear', position: 'left', min: yMin, max: yMax,
            afterBuildTicks: setValues,
            afterFit: function (s) { s.width = 313; },
            grid: tickGrid, border: frame,
            ticks: {padding: 20, font: {size: 66}, callback: function (v) { return v.toFixed(2); }},
            title: {display: true, text: 'Albedo reduction due to rBC', font: {size: 69}, padding: {top: 9, bottom: 0}}
        },
        y2: {
            type: 'linear', axis: 'y', position: 'right', min: yMin, max: yMax,
            afterBuildTicks: setValues,
            afterFit: function (s) { s.width = 59; },
            grid: tickGrid, border: frame, ticks: {display: false}
        }
    };
}

function makeChart(canvasId, black, red, scales, notes) {
    return new Chart(document.getElementById(canvasId).getContext('2d'), {
        type: 'line',
        data: {
            datasets: [
                {label: 'rs = 50 um', data: red, borderColor: '#ff4242', borderWidth: 4.5,
                 stepped: 'middle', pointRadius: 0, spanGaps: false, order: 0},
                {label: 'rs = 1000 um', data: black, borderColor: '#000000', borderWidth: 5.5,
                 stepped: 'middle', pointRadius: 0, spanGaps: false, order: 1}
            ]
        },
        options: {
            responsive: false,
            devicePixelRatio: 1,
            animation: false,
            layout: {padding: 0},
            scales: scales,
            plugins: {
                legend: {display: false},
                tooltip: {enabled: false},
                panelNotes: notes
            }
        },
        plugins: [panelNotes]
    });
}

makeChart('clear-chart', toPoints(clearBlack, clearBlackLow), toPoints(clearRed, clearRedLow),
    makeScales(-0.00042, 0.05042, 54, 261, 22, 30),
    {
        texts: [
            {text: '(a)', year: 1664.1, value: 0.04385, size: 64, align: 'left'},
            {text: 'SIGMA-D', year: 1944.7, value: 0.04332, size: 58, align: 'left'},
            {text: 'Clear sky', year: 1944.7, value: 0.03944, size: 58, align: 'left'},
            {text: '1710', year: 1705.3, value: 0.02798, size: 58, align: 'center'},
            {text: '1925', year: 1926.4, value: 0.0318, size: 58, align: 'center'}
        ],
        legend: [
            {color: '#000000', from: 1754.0, to: 1781.9, lineAt: 0.04519, textAt: 1788.9, baseAt: 0.04373, label: '1000 μm'},
            {color: '#ff4242', from: 1754.0, to: 1781.9, lineAt: 0.03972, textAt: 1788.9, baseAt: 0.03825, label: '50 μm'}
        ]
    });

makeChart('cloudy-chart', toPoints(cloudyBlack, cloudyBlackLow), toPoints(cloudyRed, cloudyRedLow),
    makeScales(-0.00054, 0.05054, 85, 229, 25, 0),
    {
        texts: [
            {text: '(b)', year: 1663.3, value: 0.0439, size: 64, align: 'left'},
            {text: 'SIGMA-D', year: 1941.0, value: 0.03995, size: 58, align: 'left'},
            {text: 'Cloudy sky', year: 1941.0, value: 0.03624, size: 58, align: 'left'},
            {text: '1710', year: 1707.9, value: 0.0366, size: 58, align: 'center'},
            {text: '1925', year: 1920.1, value: 0.04659, size: 58, align: 'center'}
        ],
        legend: [
            {color: '#000000', from: 1756.2, to: 1783.2, lineAt: 0.04438, textAt: 1791.1, baseAt: 0.04294, label: '1000 μm'},
            {color: '#ff4242', from: 1756.2, to: 1783.2, lineAt: 0.03888, textAt: 1791.1, baseAt: 0.03744, label: '50 μm'}
        ]
    });
</script>
</body>
</html>
